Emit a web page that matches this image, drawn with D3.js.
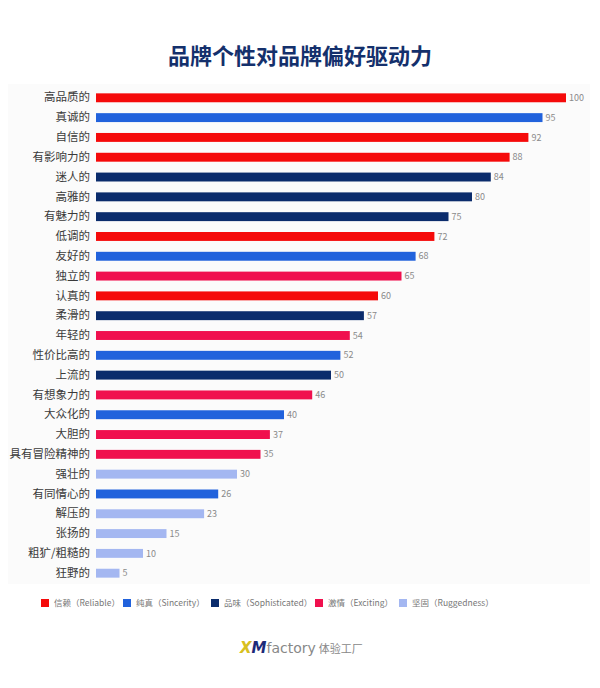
<!DOCTYPE html>
<html>
<head>
<meta charset="utf-8">
<script src="https://cdn.jsdelivr.net/npm/d3@7"></script>
<style>
  body { margin: 0; background: #fff; }
  text { font-family: "Noto Sans CJK SC", "Noto Sans", sans-serif; }
</style>
</head>
<body>
<div id="viz"></div>
<script>
const width = 600;
const height = 688;
const margin = {top: 88, right: 34, bottom: 105, left: 96};

// traits, top to bottom
const traits = ['高品质的', '真诚的', '自信的', '有影响力的', '迷人的', '高雅的', '有魅力的', '低调的',
  '友好的', '独立的', '认真的', '柔滑的', '年轻的', '性价比高的', '上流的', '有想象力的', '大众化的',
  '大胆的', '具有冒险精神的', '强壮的', '有同情心的', '解压的', '张扬的', '粗犷/粗糙的', '狂野的'];
const values = [100, 95, 92, 88, 84, 80, 75, 72, 68, 65, 60, 57, 54, 52, 50, 46, 40, 37, 35, 30, 26, 23, 15, 10, 5];
const dims = ['reliable', 'sincerity', 'reliable', 'reliable', 'soph', 'soph', 'soph', 'reliable',
  'sincerity', 'exciting', 'reliable', 'soph', 'exciting', 'sincerity', 'soph', 'exciting', 'sincerity',
  'exciting', 'exciting', 'rugged', 'sincerity', 'rugged', 'rugged', 'rugged', 'rugged'];

const groups = [
  { key: 'reliable', label: '信赖（Reliable）', color: '#f50a0a' },
  { key: 'sincerity', label: '纯真（Sincerity）', color: '#2162dc' },
  { key: 'soph', label: '品味（Sophisticated）', color: '#0b2c6c' },
  { key: 'exciting', label: '激情（Exciting）', color: '#f0104e' },
  { key: 'rugged', label: '坚固（Ruggedness）', color: '#a4b7f1' },
];

const data = traits.map((t, i) => ({ trait: t, value: values[i], dim: dims[i] }));

const scaleColor = d3.scaleOrdinal()
  .domain(groups.map(g => g.key))
  .range(groups.map(g => g.color));

const scaleX = d3.scaleLinear()
  .domain([0, 100])
  .range([margin.left, 566]);

const scaleY = d3.scaleBand()
  .domain(traits)
  .range([margin.top, height - margin.bottom])
  .paddingInner(0.55)
  .paddingOuter(0.27);

const svg = d3.select('#viz')
  .append('svg')
    .attr('width', width)
    .attr('height', height);

// faint panel behind the chart
svg.append('rect')
  .attr('x', 8)
  .attr('y', 84)
  .attr('width', 582)
  .attr('height', 500)
  .attr('fill', '#fbfbfb');

// title
svg.append('text')
  .attr('x', width / 2)
  .attr('y', 64)
  .attr('text-anchor', 'middle')
  .style('font-size', '22px')
  .style('font-weight', 700)
  .attr('fill', '#14306c')
  .text('品牌个性对品牌偏好驱动力');

// bars
svg.append('g')
  .selectAll('rect')
  .data(data)
  .join('rect')
    .attr('x', scaleX(0))
    .attr('y', d => scaleY(d.trait))
    .attr('width', d => scaleX(d.value) - scaleX(0))
    .attr('height', scaleY.bandwidth())
    .attr('fill', d => scaleColor(d.dim));

// value labels
svg.append('g')
  .selectAll('text')
  .data(data)
  .join('text')
    .attr('x', d => scaleX(d.value) + 3)
    .attr('y', d => scaleY(d.trait) + scaleY.bandwidth() / 2)
    .attr('dy', '0.35em')
    .style('font-size', '9px')
    .attr('fill', '#8a8a8a')
    .text(d => d.value);

// y axis labels
const axisLeft = d3.axisLeft(scaleY).tickSize(0).tickPadding(6);
const yAxis = svg.append('g')
  .attr('transform', `translate(${margin.left},0)`)
  .call(axisLeft);
yAxis.select('.domain').remove();
yAxis.selectAll('text')
  .style('font-family', '"Noto Sans CJK SC", sans-serif')
  .style('font-size', '11.5px')
  .attr('fill', '#3a3a3a');

// legend
const legendX = [41, 123, 211, 315, 399];
const legend = svg.append('g')
  .selectAll('g')
  .data(groups)
  .join('g')
    .attr('transform', (d, i) => `translate(${legendX[i]},603)`);
legend.append('rect')
  .attr('x', 0)
  .attr('y', -4)
  .attr('width', 8)
  .attr('height', 8)
  .attr('fill', d => d.color);
legend.append('text')
  .attr('x', 13)
  .attr('y', 0)
  .attr('dy', '0.35em')
  .style('font-size', '8.5px')
  .attr('fill', '#777')
  .text(d => d.label);

// logo
const logo = svg.append('text')
  .attr('x', 240)
  .attr('y', 653)
  .style('font-family', '"DejaVu Sans", sans-serif');
logo.append('tspan')
  .style('font-size', '15px')
  .style('font-weight', 700)
  .style('font-style', 'italic')
  .attr('fill', '#d8c020')
  .text('X');
logo.append('tspan')
  .style('font-size', '15px')
  .style('font-weight', 700)
  .style('font-style', 'italic')
  .attr('fill', '#1c2a78')
  .text('M');
logo.append('tspan')
  .style('font-size', '14px')
  .attr('fill', '#888')
  .text('factory');
logo.append('tspan')
  .attr('dx', 3)
  .style('font-family', '"Noto Sans CJK SC", sans-serif')
  .style('font-size', '11px')
  .attr('fill', '#888')
  .text('体验工厂');
</script>
</body>
</html>
